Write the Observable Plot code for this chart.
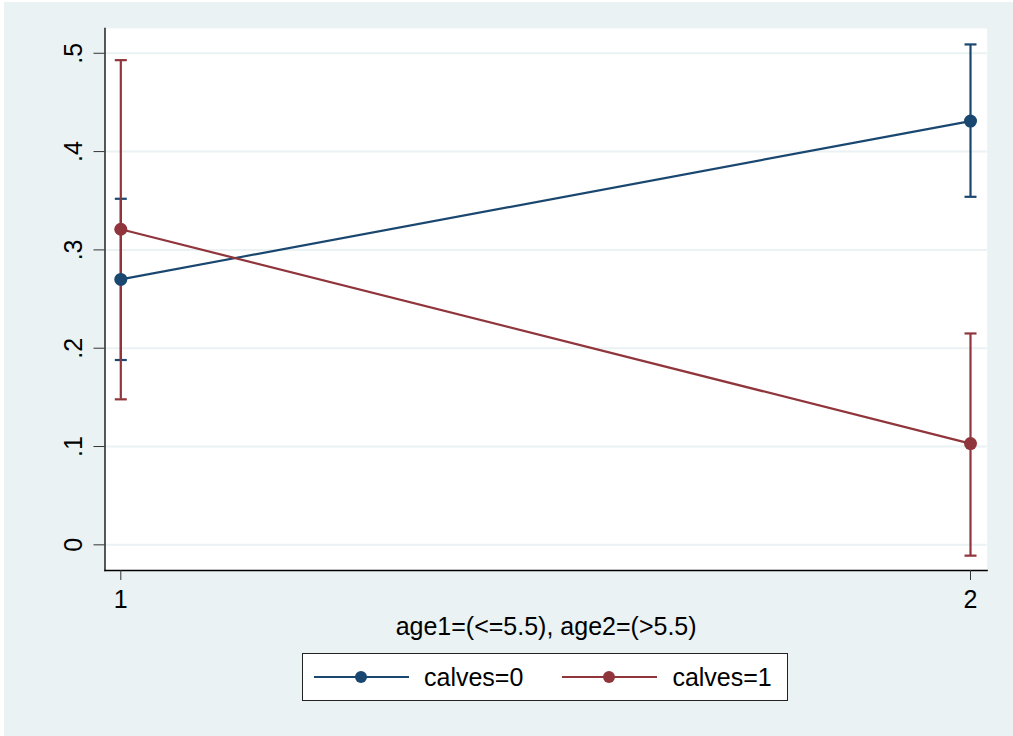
<!DOCTYPE html>
<html>
<head>
<meta charset="utf-8">
<script src="https://cdn.jsdelivr.net/npm/d3@7"></script>
<script src="https://cdn.jsdelivr.net/npm/@observablehq/plot@0.6"></script>
<style>
  html, body { margin: 0; padding: 0; background: #ffffff; }
  body { font-family: "Liberation Sans", Arial, Helvetica, sans-serif; }
  #graph {
    position: absolute; left: 4px; top: 2px; width: 1009px; height: 734px;
    background: #EAF2F3;
  }
  #graph > svg { position: absolute; left: 0; top: 0; }
  #legend {
    position: absolute; left: 298px; top: 651px; width: 484px; height: 46px;
    background: #ffffff; border: 1.5px solid #222;
    display: flex; align-items: center;
    font-size: 25px; color: #000;
  }
  .item { display: flex; align-items: center; }
  .item svg { display: block; }
</style>
</head>
<body>
<div id="graph"><div id="legend"></div></div>
<script>
// Predictive margins of the outcome by age group, split by calves
const groups = ["calves=0", "calves=1"];
const groupColors = ["#1A476F", "#90353B"];
const ageCodes = [1, 2];
const xTicks = [1, 2];
const yTicks = [0, 0.1, 0.2, 0.3, 0.4, 0.5];
const xTitle = "age1=(<=5.5), age2=(>5.5)";

const calves0Mean = [0.270, 0.431];
const calves0Low = [0.188, 0.354];
const calves0High = [0.352, 0.509];

const calves1Mean = [0.321, 0.103];
const calves1Low = [0.148, -0.011];
const calves1High = [0.493, 0.215];

const series = [
  {group: groups[0], mean: calves0Mean, low: calves0Low, high: calves0High},
  {group: groups[1], mean: calves1Mean, low: calves1Low, high: calves1High}
];
const rows = series.flatMap(s => ageCodes.map((a, i) => ({
  group: s.group, age: a, mean: s.mean[i], low: s.low[i], high: s.high[i]
})));
const rowsOf = g => rows.filter(r => r.group === g);

// Horizontal cap drawn at the end of each confidence interval
const capSymbol = {
  draw(context, size) {
    const w = Math.sqrt(size / Math.PI);
    context.moveTo(-w, 0);
    context.lineTo(w, 0);
  }
};

const fmtY = d => d === 0 ? "0" : d3.format(".1f")(d).replace(/^0/, "");
const font = "'Liberation Sans', Arial, Helvetica, sans-serif";

const ciMarks = g => [
  Plot.ruleX(rowsOf(g), {x: "age", y1: "low", y2: "high", stroke: "group", strokeWidth: 2.2}),
  Plot.dot(rowsOf(g), {x: "age", y: "low", symbol: capSymbol, r: 6, stroke: "group", strokeWidth: 2.2, fill: "none"}),
  Plot.dot(rowsOf(g), {x: "age", y: "high", symbol: capSymbol, r: 6, stroke: "group", strokeWidth: 2.2, fill: "none"})
];
const lineMarks = g => [
  Plot.line(rowsOf(g), {x: "age", y: "mean", stroke: "group", strokeWidth: 2.2}),
  Plot.dot(rowsOf(g), {x: "age", y: "mean", fill: "group", r: 6.5, stroke: null})
];

const chart = Plot.plot({
  width: 1009,
  height: 734,
  marginLeft: 100.5,
  marginRight: 26.3,
  marginTop: 26,
  marginBottom: 166,
  style: {background: "transparent", fontFamily: font, color: "#000"},
  x: {type: "linear", domain: [0.9814, 2.01965], axis: null},
  y: {domain: [-0.0261, 0.5252], axis: null},
  color: {domain: groups, range: groupColors},
  marks: [
    Plot.frame({fill: "white", stroke: null}),
    Plot.gridY(yTicks, {stroke: "#EAF2F3", strokeOpacity: 1, strokeWidth: 2}),
    Plot.frame({anchor: "left", stroke: "#000", strokeWidth: 1.3}),
    Plot.frame({anchor: "bottom", stroke: "#000", strokeWidth: 1.3}),
    Plot.axisY(yTicks, {
      anchor: "left", tickSize: 11, tickPadding: 0, tickFormat: null,
      stroke: "#333", text: null
    }),
    Plot.text(yTicks, {
      y: d => d, frameAnchor: "left", dx: -31, rotate: -90,
      text: fmtY, fontSize: 25, textAnchor: "middle", lineAnchor: "middle", fill: "#000"
    }),
    Plot.axisX(xTicks, {
      anchor: "bottom", tickSize: 10, tickPadding: 10, fontSize: 25,
      stroke: "#333", fill: "#000", tickFormat: d => String(d),
      label: xTitle, labelAnchor: "center", labelOffset: 64, labelArrow: "none"
    }),
    ...ciMarks(groups[0]),
    ...ciMarks(groups[1]),
    ...lineMarks(groups[0]),
    ...lineMarks(groups[1])
  ]
});
document.getElementById("graph").prepend(chart);

// Legend: one line-and-marker key per series
const legend = d3.select("#legend");
groups.forEach((g, i) => {
  const item = legend.append("div").attr("class", "item")
    .style("margin-left", i === 0 ? "11px" : "39px");
  const sw = item.append("svg").attr("width", 95).attr("height", 20);
  sw.append("line").attr("x1", 0).attr("x2", 95).attr("y1", 10).attr("y2", 10)
    .attr("stroke", groupColors[i]).attr("stroke-width", 2);
  sw.append("circle").attr("cx", 47).attr("cy", 10).attr("r", 6)
    .attr("fill", groupColors[i]);
  item.append("span").style("margin-left", "15px").text(g);
});
</script>
</body>
</html>
